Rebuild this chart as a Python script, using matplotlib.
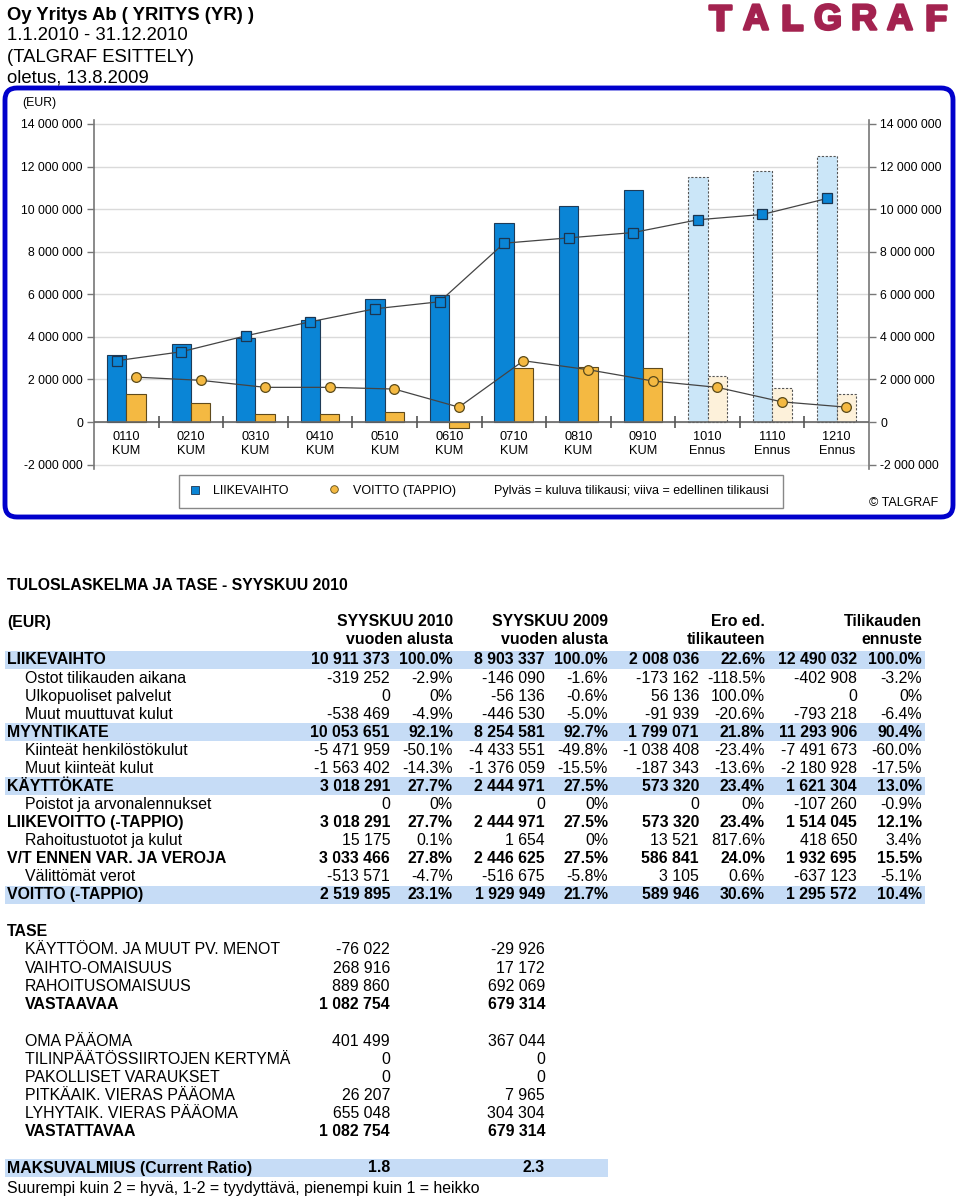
import matplotlib
matplotlib.use('Agg')
import matplotlib.pyplot as plt
from matplotlib.patches import FancyBboxPatch, Rectangle
import matplotlib.patheffects as pe
import numpy as np

plt.rcParams['font.family'] = ['Liberation Sans', 'DejaVu Sans']

# chart data (EUR)
categories = ['0110\nKUM', '0210\nKUM', '0310\nKUM', '0410\nKUM', '0510\nKUM', '0610\nKUM',
              '0710\nKUM', '0810\nKUM', '0910\nKUM', '1010\nEnnus', '1110\nEnnus', '1210\nEnnus']
is_forecast = [False] * 9 + [True] * 3
sales_cur = [3.13e6, 3.66e6, 3.93e6, 4.79e6, 5.79e6, 5.98e6, 9.36e6, 10.16e6, 10.91e6, 11.49e6, 11.78e6, 12.49e6]
profit_cur = [1.30e6, 0.91e6, 0.39e6, 0.36e6, 0.47e6, -0.30e6, 2.55e6, 2.57e6, 2.52e6, 2.17e6, 1.58e6, 1.30e6]
sales_prev = [2.88e6, 3.30e6, 4.05e6, 4.71e6, 5.32e6, 5.65e6, 8.40e6, 8.65e6, 8.90e6, 9.50e6, 9.75e6, 10.50e6]
profit_prev = [2.11e6, 1.96e6, 1.63e6, 1.63e6, 1.55e6, 0.70e6, 2.88e6, 2.46e6, 1.93e6, 1.63e6, 0.95e6, 0.70e6]
y_ticks = [-2e6, 0, 2e6, 4e6, 6e6, 8e6, 10e6, 12e6, 14e6]

# income statement
pl_labels = ['LIIKEVAIHTO', 'Ostot tilikauden aikana', 'Ulkopuoliset palvelut', 'Muut muuttuvat kulut',
             'MYYNTIKATE', 'Kiinteät henkilöstökulut', 'Muut kiinteät kulut', 'KÄYTTÖKATE',
             'Poistot ja arvonalennukset', 'LIIKEVOITTO (-TAPPIO)', 'Rahoitustuotot ja kulut',
             'V/T ENNEN VAR. JA VEROJA', 'Välittömät verot', 'VOITTO (-TAPPIO)']
pl_cur = [10911373, -319252, 0, -538469, 10053651, -5471959, -1563402, 3018291, 0, 3018291, 15175, 3033466, -513571, 2519895]
pl_cur_pct = [100.0, -2.9, 0, -4.9, 92.1, -50.1, -14.3, 27.7, 0, 27.7, 0.1, 27.8, -4.7, 23.1]
pl_prev = [8903337, -146090, -56136, -446530, 8254581, -4433551, -1376059, 2444971, 0, 2444971, 1654, 2446625, -516675, 1929949]
pl_prev_pct = [100.0, -1.6, -0.6, -5.0, 92.7, -49.8, -15.5, 27.5, 0, 27.5, 0, 27.5, -5.8, 21.7]
pl_diff = [2008036, -173162, 56136, -91939, 1799071, -1038408, -187343, 573320, 0, 573320, 13521, 586841, 3105, 589946]
pl_diff_pct = [22.6, -118.5, 100.0, -20.6, 21.8, -23.4, -13.6, 23.4, 0, 23.4, 817.6, 24.0, 0.6, 30.6]
pl_fc = [12490032, -402908, 0, -793218, 11293906, -7491673, -2180928, 1621304, -107260, 1514045, 418650, 1932695, -637123, 1295572]
pl_fc_pct = [100.0, -3.2, 0, -6.4, 90.4, -60.0, -17.5, 13.0, -0.9, 12.1, 3.4, 15.5, -5.1, 10.4]
pl_bold = [1, 0, 0, 0, 1, 0, 0, 1, 0, 1, 0, 1, 0, 1]
pl_band = [1, 0, 0, 0, 1, 0, 0, 1, 0, 0, 0, 0, 0, 1]

# balance sheet
tase_labels = ['KÄYTTÖOM. JA MUUT PV. MENOT', 'VAIHTO-OMAISUUS', 'RAHOITUSOMAISUUS', 'VASTAAVAA', '',
               'OMA PÄÄOMA', 'TILINPÄÄTÖSSIIRTOJEN KERTYMÄ', 'PAKOLLISET VARAUKSET',
               'PITKÄAIK. VIERAS PÄÄOMA', 'LYHYTAIK. VIERAS PÄÄOMA', 'VASTATTAVAA']
tase_cur = [-76022, 268916, 889860, 1082754, None, 401499, 0, 0, 26207, 655048, 1082754]
tase_prev = [-29926, 17172, 692069, 679314, None, 367044, 0, 0, 7965, 304304, 679314]
tase_bold = [0, 0, 0, 1, 0, 0, 0, 0, 0, 0, 1]
ratio_cur = 1.8
ratio_prev = 2.3

BLUE = '#0a85d6'
YELLOW = '#f4b942'
LBLUE = '#cbe6f8'
LYELLOW = '#fdf1da'
BAND = '#c6dcf6'


def num(v):
    return f"{v:,}".replace(',', ' ')


def pct(p):
    return '0%' if round(p, 1) == 0 else f"{p:.1f}%"


fig = plt.figure(figsize=(9.6, 11.99), dpi=100)

# background layer in pixel coordinates
bg = fig.add_axes([0, 0, 1, 1], zorder=0)
bg.set_xlim(0, 960)
bg.set_ylim(1199, 0)
bg.axis('off')

hdr = ['Oy Yritys Ab ( YRITYS (YR) )', '1.1.2010 - 31.12.2010', '(TALGRAF ESITTELY)', 'oletus, 13.8.2009']
for i, t in enumerate(hdr):
    bg.text(7, 15 + i * 21, t, fontsize=13.3, va='center', ha='left',
            fontweight='bold' if i == 0 else 'normal')

for i, ch in enumerate('TALGRAF'):
    bg.text(720 + i * 36, 20, ch, fontsize=26, fontweight='heavy', color='#a3224f',
            ha='center', va='center',
            path_effects=[pe.withStroke(linewidth=1.8, foreground='#a3224f')])

bg.add_patch(FancyBboxPatch((5, 88), 948, 429, boxstyle='round,pad=0,rounding_size=12',
                            fc='none', ec='#0000cc', lw=3.5))
bg.text(22, 103, '(EUR)', fontsize=8.8, va='center')

# legend box
bg.add_patch(Rectangle((179, 475), 604, 33, fc='white', ec='#888888', lw=1))
bg.plot([195], [490], marker='s', ms=5.5, mfc=BLUE, mec='#1b3550', mew=0.6)
bg.text(213, 491, 'LIIKEVAIHTO', fontsize=9, va='center')
bg.plot([334], [489], marker='o', ms=5.5, mfc=YELLOW, mec='#5a4a1a', mew=0.6)
bg.text(353, 491, 'VOITTO (TAPPIO)', fontsize=9, va='center')
bg.text(494, 491, 'Pylväs = kuluva tilikausi; viiva = edellinen tilikausi', fontsize=9, va='center')
bg.text(869, 503, '© TALGRAF', fontsize=9, va='center')

# chart
ax = fig.add_axes([94 / 960, 1 - 468.9 / 1199, 775 / 960, 349.2 / 1199], zorder=1)
ax.patch.set_alpha(0)
x = np.arange(len(categories)) + 0.5
bars_s = ax.bar(x - 0.15, sales_cur, width=0.3, color=BLUE, edgecolor='#1f3b57', lw=0.8, zorder=2)
bars_p = ax.bar(x + 0.15, profit_cur, width=0.3, color=YELLOW, edgecolor='#5f4a1c', lw=0.8, zorder=2)
for i, f in enumerate(is_forecast):
    if f:
        bars_s[i].set_facecolor(LBLUE)
        bars_s[i].set_edgecolor('#555555')
        bars_s[i].set_linestyle((0, (2, 1.5)))
        bars_p[i].set_facecolor(LYELLOW)
        bars_p[i].set_edgecolor('#555555')
        bars_p[i].set_linestyle((0, (2, 1.5)))

ax.plot(x - 0.15, sales_prev, color='#444444', lw=0.9, marker='s', ms=6.5,
        mfc=BLUE, mec='#1b3550', mew=0.9, zorder=4)
ax.plot(x + 0.15, profit_prev, color='#444444', lw=0.9, marker='o', ms=7,
        mfc=YELLOW, mec='#5a4a1a', mew=0.9, zorder=4)

ax.axhline(0, color='#666666', lw=1.2, zorder=3)
ax.plot(np.arange(1, len(categories)), np.zeros(len(categories) - 1), ls='none',
        marker='|', ms=8, mew=1.2, color='#555555', zorder=3)
for xi, c in zip(x, categories):
    ax.text(xi, -400000, c, ha='center', va='top', fontsize=9.2, linespacing=1.3)

ax.set_xlim(0, len(categories))
ax.set_ylim(-2.2e6, 14.2e6)
ax.set_xticks([])
ax.set_yticks(y_ticks)
ax.set_yticklabels([num(int(v)) for v in y_ticks])
ax.tick_params(axis='y', left=True, right=True, labelleft=True, labelright=True,
               length=5, width=1, color='#777777', pad=3, labelsize=8.8)
ax.grid(axis='y', color='#dadada', lw=1)
ax.set_axisbelow(True)
for s in ['top', 'bottom']:
    ax.spines[s].set_visible(False)
for s in ['left', 'right']:
    ax.spines[s].set_color('#777777')
    ax.spines[s].set_linewidth(1.2)

# income statement table
FS = 11.4
bg.text(7, 585, 'TULOSLASKELMA JA TASE - SYYSKUU 2010', fontsize=FS, fontweight='bold', va='center')
bg.text(7, 622, '(EUR)', fontsize=FS, fontweight='bold', va='center')
col_hdr = [('SYYSKUU 2010', 'vuoden alusta'), ('SYYSKUU 2009', 'vuoden alusta'),
           ('Ero ed.', 'tilikauteen'), ('Tilikauden', 'ennuste')]
val_x = [390, 545, 699, 857]
pct_x = [453, 608, 765, 922]
for (h1, h2), px in zip(col_hdr, pct_x):
    bg.text(px, 622, h1, fontsize=FS, fontweight='bold', ha='right', va='center')
    bg.text(px, 639, h2, fontsize=FS, fontweight='bold', ha='right', va='center')

cols = [(pl_cur, pl_cur_pct), (pl_prev, pl_prev_pct), (pl_diff, pl_diff_pct), (pl_fc, pl_fc_pct)]
for r, lab in enumerate(pl_labels):
    y = 660 + r * 18.05
    w = 'bold' if pl_bold[r] else 'normal'
    if pl_band[r]:
        bg.add_patch(Rectangle((5, y - 9), 920, 18, fc=BAND, ec='none'))
    bg.text(7 if pl_bold[r] else 25, y, lab, fontsize=FS, fontweight=w, va='center')
    for (vals, pcts), vx, px in zip(cols, val_x, pct_x):
        bg.text(vx, y, num(vals[r]), fontsize=FS, fontweight=w, ha='right', va='center')
        bg.text(px, y, pct(pcts[r]), fontsize=FS, fontweight=w, ha='right', va='center')

# balance sheet
bg.text(7, 931, 'TASE', fontsize=FS, fontweight='bold', va='center')
for r, lab in enumerate(tase_labels):
    if not lab:
        continue
    y = 950 + r * 18.2
    w = 'bold' if tase_bold[r] else 'normal'
    bg.text(25, y, lab, fontsize=FS, fontweight=w, va='center')
    bg.text(390, y, num(tase_cur[r]), fontsize=FS, fontweight=w, ha='right', va='center')
    bg.text(545, y, num(tase_prev[r]), fontsize=FS, fontweight=w, ha='right', va='center')

bg.add_patch(Rectangle((5, 1159), 603, 18, fc=BAND, ec='none'))
bg.text(7, 1168, 'MAKSUVALMIUS (Current Ratio)', fontsize=FS, fontweight='bold', va='center')
bg.text(390, 1168, f"{ratio_cur:.1f}", fontsize=FS, fontweight='bold', ha='right', va='center')
bg.text(545, 1168, f"{ratio_prev:.1f}", fontsize=FS, fontweight='bold', ha='right', va='center')
bg.text(7, 1188, 'Suurempi kuin 2 = hyvä, 1-2 = tyydyttävä, pienempi kuin 1 = heikko', fontsize=FS, va='center')

fig.savefig('out.png', dpi=100)
